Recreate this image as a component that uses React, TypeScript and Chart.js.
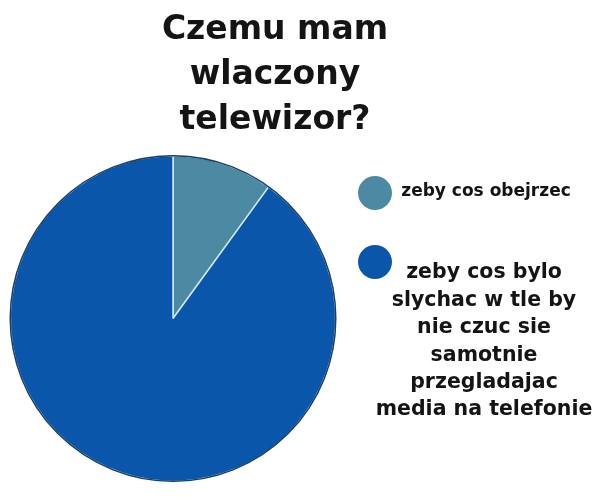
import React, { useEffect, useRef } from "react";
import { Chart, registerables } from "chart.js";

Chart.register(...registerables);

const titleLines = ["Czemu mam", "wlaczony", "telewizor?"];
const labels: string[][] = [
  ["zeby cos obejrzec"],
  ["zeby cos bylo", "slychac w tle by", "nie czuc sie", "samotnie", "przegladajac", "media na telefonie"],
];
const values = [10, 90];
const colors = ["#4b8aa2", "#0a56ab"];

const FONT = "'DejaVu Sans', 'Open Sans', sans-serif";

const overlayPlugin = {
  id: "overlay",
  afterDatasetsDraw(chart: any) {
    const ctx = chart.ctx;
    const meta = chart.getDatasetMeta(0);
    const arc = meta.data[0];
    if (arc) {
      ctx.save();
      ctx.beginPath();
      ctx.arc(arc.x, arc.y, arc.outerRadius, 0, Math.PI * 2);
      ctx.strokeStyle = "#1b3e68";
      ctx.lineWidth = 1.5;
      ctx.stroke();
      ctx.restore();
    }
  },
  afterDraw(chart: any) {
    const ctx = chart.ctx;
    ctx.save();
    ctx.fillStyle = "#141414";
    ctx.textAlign = "center";
    ctx.textBaseline = "middle";
    ctx.font = `bold 33px ${FONT}`;
    titleLines.forEach((t, i) => ctx.fillText(t, 275, 30 + i * 45));

    const ds = chart.data.datasets[0];
    const items = [
      { cx: 375, cy: 193, tx: 486, ty: 192, size: 17 },
      { cx: 375, cy: 262, tx: 484, ty: 273, size: 20.5 },
    ];
    chart.data.labels.forEach((lab: string[], i: number) => {
      const it = items[i];
      ctx.beginPath();
      ctx.arc(it.cx, it.cy, 17, 0, Math.PI * 2);
      ctx.fillStyle = ds.backgroundColor[i];
      ctx.fill();
      ctx.fillStyle = "#141414";
      ctx.font = `bold ${it.size}px ${FONT}`;
      lab.forEach((line, j) => ctx.fillText(line, it.tx, it.ty + j * 27.4));
    });
    ctx.restore();
  },
};

export default function App() {
  const ref = useRef<HTMLCanvasElement>(null);
  useEffect(() => {
    document.body.style.margin = "0";
    const chart = new Chart(ref.current!, {
      type: "pie",
      data: {
        labels,
        datasets: [
          {
            data: values,
            backgroundColor: colors,
            borderColor: "#cfe7f2",
            borderWidth: 1.5,
          },
        ],
      },
      options: {
        animation: false,
        responsive: false,
        events: [],
        layout: { padding: { left: 8, top: 155, right: 262, bottom: 16 } },
        plugins: {
          legend: { display: false },
          title: { display: false },
          tooltip: { enabled: false },
        },
      },
      plugins: [overlayPlugin],
    });
    return () => chart.destroy();
  }, []);
  return (
    <div style={{ width: 600, height: 498, background: "#fff" }}>
      <canvas ref={ref} width={600} height={498} style={{ display: "block" }} />
    </div>
  );
}
